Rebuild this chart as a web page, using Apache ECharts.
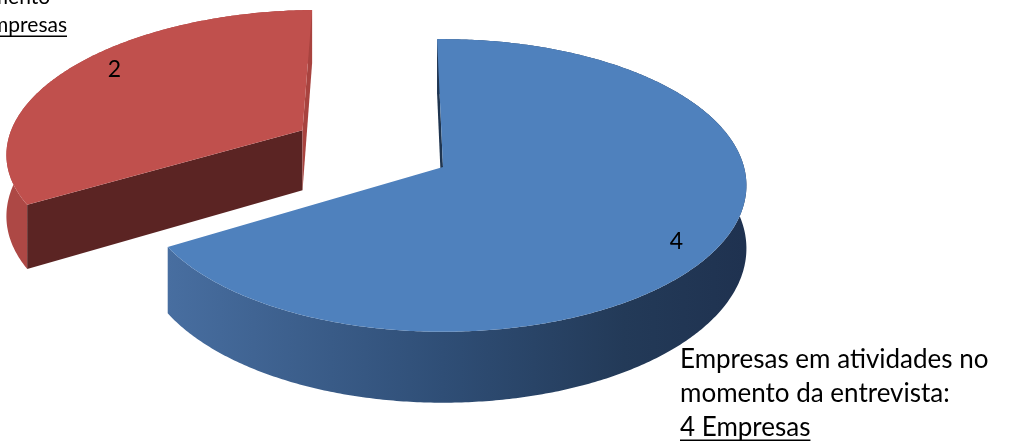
<!DOCTYPE html>
<html>
<head>
<meta charset="utf-8">
<script src="https://cdn.jsdelivr.net/npm/echarts@6/dist/echarts.min.js"></script>
<style>
  html, body { margin: 0; padding: 0; background: #fff; }
  #chart { width: 1019px; height: 444px; }
</style>
</head>
<body>
<div id="chart"></div>
<script>
// dados
const categories = ['Empresas em atividades no momento da entrevista', 'Empresas inativas no momento'];
const values = [4, 2];
const labelLines = [
  ['Empresas em atividades no', 'momento da entrevista:'],
  ['Empresas inativas no', 'momento']
];
const countLabels = ['4 Empresas', '2 Empresas'];
const explode = [0, 0.55];

// vista 3D (perspectiva simples)
const view = { cx: 443, cy: 167, rx: 301, ry: 144, k: 0.126, depth: 62, rot: -0.022 };
const topColors = ['#4f81bd', '#c0504d'];
const cutColors = [['#1f3550', '#1f3550'], ['#5b2423', '#a8433f']];
const sideColors = [
  new echarts.graphic.LinearGradient(view.cx - view.rx, 0, view.cx + view.rx, 0, [
    { offset: 0, color: '#4a71a4' },
    { offset: 0.5, color: '#2f4e76' },
    { offset: 0.8, color: '#233a58' },
    { offset: 1, color: '#1f3250' }
  ], true),
  '#ad4845'
];
const FONT = 'Lato, "Open Sans", sans-serif';
const labelStyle = [
  { x: 680, baseline: 367, size: 26, lh: 34, align: 'left' },
  { right: 67, lastBaseline: 32, size: 21, lh: 28, align: 'endRight' }
];
const valueOffset = [[-3, 13], [12, -8]];

const measureCtx = document.createElement('canvas').getContext('2d');
function textWidth(txt, size) {
  measureCtx.font = size + 'px ' + FONT;
  return measureCtx.measureText(txt).width;
}

function proj(X, Y, drop) {
  const s = 1 / (1 + view.k * Y);
  return [view.cx + view.rx * X * s, view.cy - view.ry * Y * s + drop * s];
}

function faceVisible(nx, ny, px, py) {
  const camX = 0, camY = -1 / view.k;
  return nx * (camX - px) + ny * (camY - py) > 1e-6;
}

function cutFace(a, ox, oy, n, color, z) {
  const rx = ox + Math.sin(a), ry = oy + Math.cos(a);
  const px = ox + 0.5 * Math.sin(a), py = oy + 0.5 * Math.cos(a);
  if (!faceVisible(Math.sin(n), Math.cos(n), px, py)) return null;
  return {
    type: 'polygon', z2: z,
    shape: { points: [proj(ox, oy, 0), proj(rx, ry, 0), proj(rx, ry, view.depth), proj(ox, oy, view.depth)] },
    style: { fill: color }
  };
}

function renderItem(params, api) {
  const i = params.dataIndex;
  const total = values.reduce((a, b) => a + b, 0);
  let start = 0;
  for (let j = 0; j < i; j++) start += values[j];
  const a0 = start / total * Math.PI * 2 + view.rot;
  const a1 = (start + api.value(0)) / total * Math.PI * 2 + view.rot;
  const mid = (a0 + a1) / 2;
  const ox = explode[i] * Math.sin(mid);
  const oy = explode[i] * Math.cos(mid);
  const zb = i === 0 ? 10 : 0;

  const steps = Math.max(8, Math.round((a1 - a0) / 0.01));
  const topArc = [], botArc = [];
  for (let s = 0; s <= steps; s++) {
    const t = a0 + (a1 - a0) * s / steps;
    topArc.push(proj(ox + Math.sin(t), oy + Math.cos(t), 0));
    botArc.push(proj(ox + Math.sin(t), oy + Math.cos(t), view.depth));
  }

  const children = [];
  children.push({
    type: 'polygon', z2: zb + 1,
    shape: { points: topArc.concat(botArc.slice().reverse()) },
    style: { fill: sideColors[i] }
  });
  const f0 = cutFace(a0, ox, oy, a0 - Math.PI / 2, cutColors[i][0], zb + 2);
  const f1 = cutFace(a1, ox, oy, a1 + Math.PI / 2, cutColors[i][1], zb + 2);
  if (f0) children.push(f0);
  if (f1) children.push(f1);
  children.push({
    type: 'polygon', z2: zb + 3,
    shape: { points: [proj(ox, oy, 0)].concat(topArc) },
    style: { fill: topColors[i] }
  });

  // valor
  const lp = proj(ox + 0.85 * Math.sin(mid), oy + 0.85 * Math.cos(mid), 0);
  children.push({
    type: 'text', z2: 30,
    style: {
      text: String(api.value(0)), x: lp[0] + valueOffset[i][0], y: lp[1] + valueOffset[i][1],
      align: 'center', verticalAlign: 'middle', font: '23px ' + FONT, fill: '#000'
    }
  });

  // rótulo da categoria
  const ls = labelStyle[i];
  const lines = labelLines[i].concat([countLabels[i]]);
  let x0, firstBase;
  if (ls.align === 'left') {
    x0 = ls.x; firstBase = ls.baseline;
  } else {
    x0 = ls.right - textWidth(countLabels[i], ls.size);
    firstBase = ls.lastBaseline - ls.lh * (lines.length - 1);
  }
  lines.forEach((ln, li) => {
    const base = firstBase + li * ls.lh;
    children.push({
      type: 'text', z2: 30,
      style: {
        text: ln, x: x0, y: base - ls.size * 0.3,
        align: 'left', verticalAlign: 'middle', font: ls.size + 'px ' + FONT, fill: '#000'
      }
    });
  });
  const ub = firstBase + (lines.length - 1) * ls.lh + ls.size * 0.2;
  children.push({
    type: 'line', z2: 30,
    shape: { x1: x0, y1: ub, x2: x0 + textWidth(countLabels[i], ls.size), y2: ub },
    style: { stroke: '#000', lineWidth: 1.5 }
  });

  return { type: 'group', children };
}

const chart = echarts.init(document.getElementById('chart'));
chart.setOption({
  animation: false,
  series: [{
    type: 'custom',
    coordinateSystem: 'none',
    data: values.map((v, i) => ({ name: categories[i], value: v })),
    renderItem
  }]
});
</script>
</body>
</html>
